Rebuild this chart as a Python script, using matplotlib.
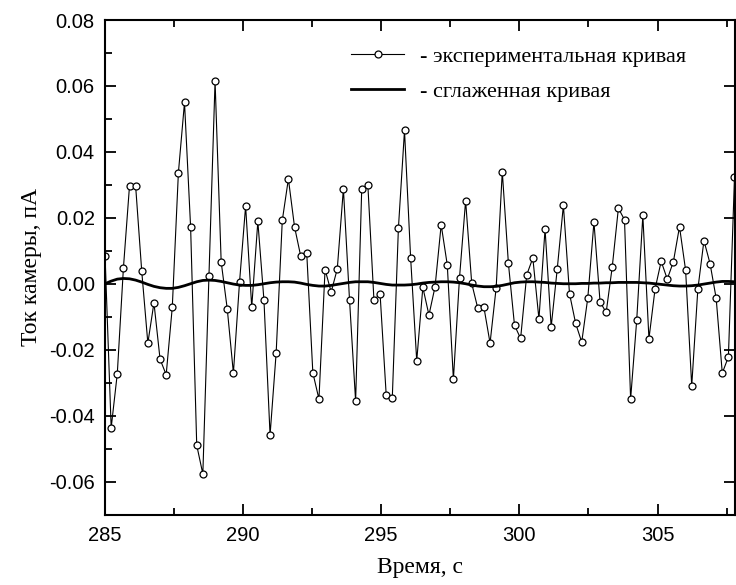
import numpy as np
import matplotlib
matplotlib.use('Agg')
import matplotlib.pyplot as plt
from matplotlib.ticker import MultipleLocator

# measured chamber current, one sample every ~0.221 s starting at 285.02 s
current = [0.0083, -0.0437, -0.0273, 0.0047, 0.0297, 0.0297, 0.0038, -0.0180, -0.0058, -0.0229,
           -0.0276, -0.0071, 0.0337, 0.0550, 0.0171, -0.0490, -0.0577, 0.0024, 0.0615, 0.0066,
           -0.0077, -0.0271, 0.0004, 0.0236, -0.0071, 0.0189, -0.0050, -0.0459, -0.0209, 0.0192,
           0.0318, 0.0173, 0.0085, 0.0094, -0.0270, -0.0350, 0.0043, -0.0025, 0.0045, 0.0288,
           -0.0048, -0.0356, 0.0288, 0.0300, -0.0050, -0.0030, -0.0336, -0.0347, 0.0168, 0.0465,
           0.0079, -0.0234, -0.0011, -0.0095, -0.0009, 0.0179, 0.0057, -0.0290, 0.0018, 0.0252,
           0.0001, -0.0075, -0.0072, -0.0180, -0.0012, 0.0340, 0.0062, -0.0126, -0.0166, 0.0027,
           0.0078, -0.0107, 0.0166, -0.0131, 0.0046, 0.0238, -0.0030, -0.0120, -0.0177, -0.0042,
           0.0187, -0.0055, -0.0087, 0.0052, 0.0229, 0.0194, -0.0350, -0.0110, 0.0207, -0.0167,
           -0.0016, 0.0068, 0.0014, 0.0067, 0.0173, 0.0041, -0.0310, -0.0017, 0.0131, 0.0061,
           -0.0044, -0.0271, -0.0222, 0.0323, 0.0530]

# smoothed curve read at the same sample times
smooth = [0.0000, 0.0008, 0.0014, 0.0016, 0.0015, 0.0011, 0.0005, -0.0002, -0.0008, -0.0012,
          -0.0014, -0.0014, -0.0011, -0.0006, 0.0000, 0.0006, 0.0010, 0.0011, 0.0010, 0.0007,
          0.0003, -0.0001, -0.0004, -0.0005, -0.0005, -0.0003, 0.0000, 0.0003, 0.0005, 0.0006,
          0.0006, 0.0005, 0.0002, -0.0002, -0.0005, -0.0007, -0.0007, -0.0005, -0.0002, 0.0001,
          0.0004, 0.0006, 0.0006, 0.0006, 0.0004, 0.0001, -0.0002, -0.0004, -0.0004, -0.0004,
          -0.0003, -0.0001, 0.0002, 0.0004, 0.0005, 0.0006, 0.0006, 0.0005, 0.0003, 0.0000,
          -0.0004, -0.0007, -0.0009, -0.0009, -0.0008, -0.0005, -0.0001, 0.0003, 0.0005, 0.0006,
          0.0006, 0.0005, 0.0004, 0.0002, 0.0001, 0.0000, 0.0000, 0.0000, 0.0001, 0.0001,
          0.0002, 0.0002, 0.0003, 0.0003, 0.0004, 0.0004, 0.0004, 0.0004, 0.0003, 0.0002,
          0.0000, -0.0002, -0.0004, -0.0006, -0.0007, -0.0007, -0.0006, -0.0004, -0.0001, 0.0002,
          0.0005, 0.0007, 0.0007, 0.0006, 0.0005]

t0 = 285.02
dt = 0.221
time = t0 + dt * np.arange(len(current))

serif = ['Liberation Serif', 'DejaVu Serif']
sans = ['Liberation Sans', 'DejaVu Sans']

fig = plt.figure(figsize=(7.36, 5.85), dpi=100)
ax = fig.add_axes([0.142, 0.1205, 0.8566, 0.8453])

ax.plot(time, current, color='black', linewidth=0.8, marker='o', markersize=5,
        markerfacecolor='white', markeredgecolor='black', markeredgewidth=0.9,
        label='- экспериментальная кривая')
ax.plot(time, smooth, color='black', linewidth=2.0, label='- сглаженная кривая')

ax.set_xlim(285, 307.8)
ax.set_ylim(-0.07, 0.08)
ax.xaxis.set_major_locator(MultipleLocator(5))
ax.xaxis.set_minor_locator(MultipleLocator(2.5))
ax.yaxis.set_major_locator(MultipleLocator(0.02))
ax.yaxis.set_minor_locator(MultipleLocator(0.01))
ax.yaxis.set_major_formatter(matplotlib.ticker.FormatStrFormatter('%.2f'))

ax.tick_params(which='both', direction='in', top=True, right=True, width=1.3)
ax.tick_params(which='major', length=8)
ax.tick_params(which='minor', length=5)
ax.tick_params(axis='y', which='minor', right=False)
for lab in ax.get_xticklabels() + ax.get_yticklabels():
    lab.set_family(sans)
    lab.set_fontsize(14.5)
ax.tick_params(axis='x', pad=8)
ax.tick_params(axis='y', pad=7)
for s in ax.spines.values():
    s.set_linewidth(1.5)

ax.set_xlabel('Время, с', family=serif, fontsize=17, labelpad=9)
ax.set_ylabel('Ток камеры, пА', family=serif, fontsize=17, labelpad=5)

leg = ax.legend(loc='upper left', bbox_to_anchor=(0.391, 0.947), frameon=False,
                prop={'family': serif, 'size': 16}, handlelength=2.4,
                handletextpad=0.7, labelspacing=0.65, borderpad=0, borderaxespad=0)

fig.savefig('out.png', dpi=100)
